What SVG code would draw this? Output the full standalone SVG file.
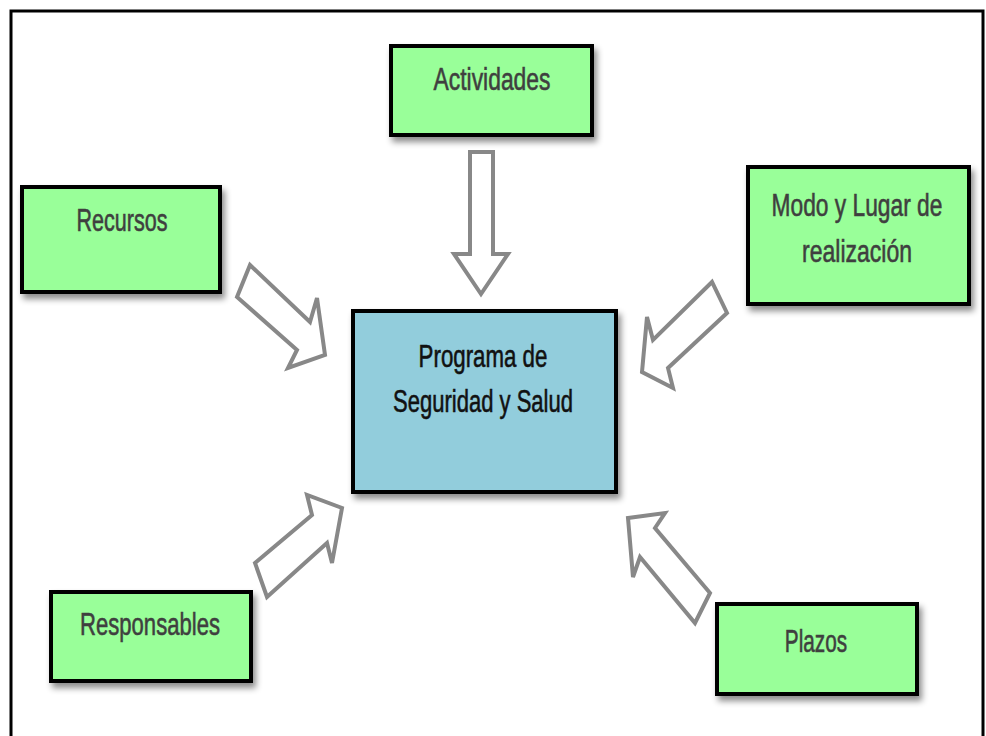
<svg xmlns="http://www.w3.org/2000/svg" width="986" height="736" viewBox="0 0 986 736">
<defs>
<filter id="sh" x="-10%" y="-10%" width="125%" height="130%">
<feDropShadow dx="3" dy="5" stdDeviation="3" flood-color="#000" flood-opacity="0.45"/>
</filter>
<style>
.g{fill:#99ff99;stroke:#000;stroke-width:4;filter:url(#sh)}
.b{fill:#92cddc;stroke:#000;stroke-width:4;filter:url(#sh)}
.t{font-family:"Liberation Sans",Arial,sans-serif;font-size:32px;fill:#3f3f3f;stroke:#3f3f3f;stroke-width:0.6;text-anchor:middle}
.tb{fill:#111;stroke:#111}
.ar{fill:#fff;stroke:#888;stroke-width:4;stroke-linejoin:miter}
</style>
</defs>
<rect x="0" y="0" width="986" height="736" fill="#fff"/>
<rect x="11" y="11" width="972" height="740" fill="none" stroke="#000" stroke-width="3"/>
<g id="connectors">
<polygon class="ar" points="470,152 493,152 493,254 508,254 481,294 454,254 470,254"/>
<polygon class="ar" points="250,265 310,322 317,298 325,355 288,368 297,350 237,297"/>
<polygon class="ar" points="712,282 653,340 647,317 642,372 673,388 668,368 727,313"/>
<polygon class="ar" points="255,563 312,515 307,495 342,508 332,563 327,543 267,597"/>
<polygon class="ar" points="628,518 665,513 655,528 710,593 695,623 640,557 633,577"/>
</g>
<g id="actividades">
<rect class="g" x="391" y="46" width="201" height="89"/>
<text class="t" transform="translate(492,90) scale(0.7,1)" textLength="167" lengthAdjust="spacingAndGlyphs">Actividades</text>
</g>
<g id="recursos">
<rect class="g" x="22" y="187" width="198" height="105"/>
<text class="t" transform="translate(122,231) scale(0.7,1)" textLength="130" lengthAdjust="spacingAndGlyphs">Recursos</text>
</g>
<g id="modo">
<rect class="g" x="748" y="167" width="221" height="137"/>
<text class="t" transform="translate(857,216) scale(0.7,1)" textLength="244" lengthAdjust="spacingAndGlyphs">Modo y Lugar de</text>
<text class="t" transform="translate(857,262) scale(0.7,1)" textLength="157" lengthAdjust="spacingAndGlyphs">realización</text>
</g>
<g id="programa">
<rect class="b" x="353" y="311" width="263" height="181"/>
<text class="t tb" transform="translate(483,367) scale(0.7,1)" textLength="184" lengthAdjust="spacingAndGlyphs">Programa de</text>
<text class="t tb" transform="translate(483,412) scale(0.7,1)" textLength="257" lengthAdjust="spacingAndGlyphs">Seguridad y Salud</text>
</g>
<g id="responsables">
<rect class="g" x="51" y="592" width="200" height="89"/>
<text class="t" transform="translate(150,635) scale(0.7,1)" textLength="200" lengthAdjust="spacingAndGlyphs">Responsables</text>
</g>
<g id="plazos">
<rect class="g" x="717" y="604" width="200" height="90"/>
<text class="t" transform="translate(816,652) scale(0.7,1)" textLength="89" lengthAdjust="spacingAndGlyphs">Plazos</text>
</g>
</svg>
